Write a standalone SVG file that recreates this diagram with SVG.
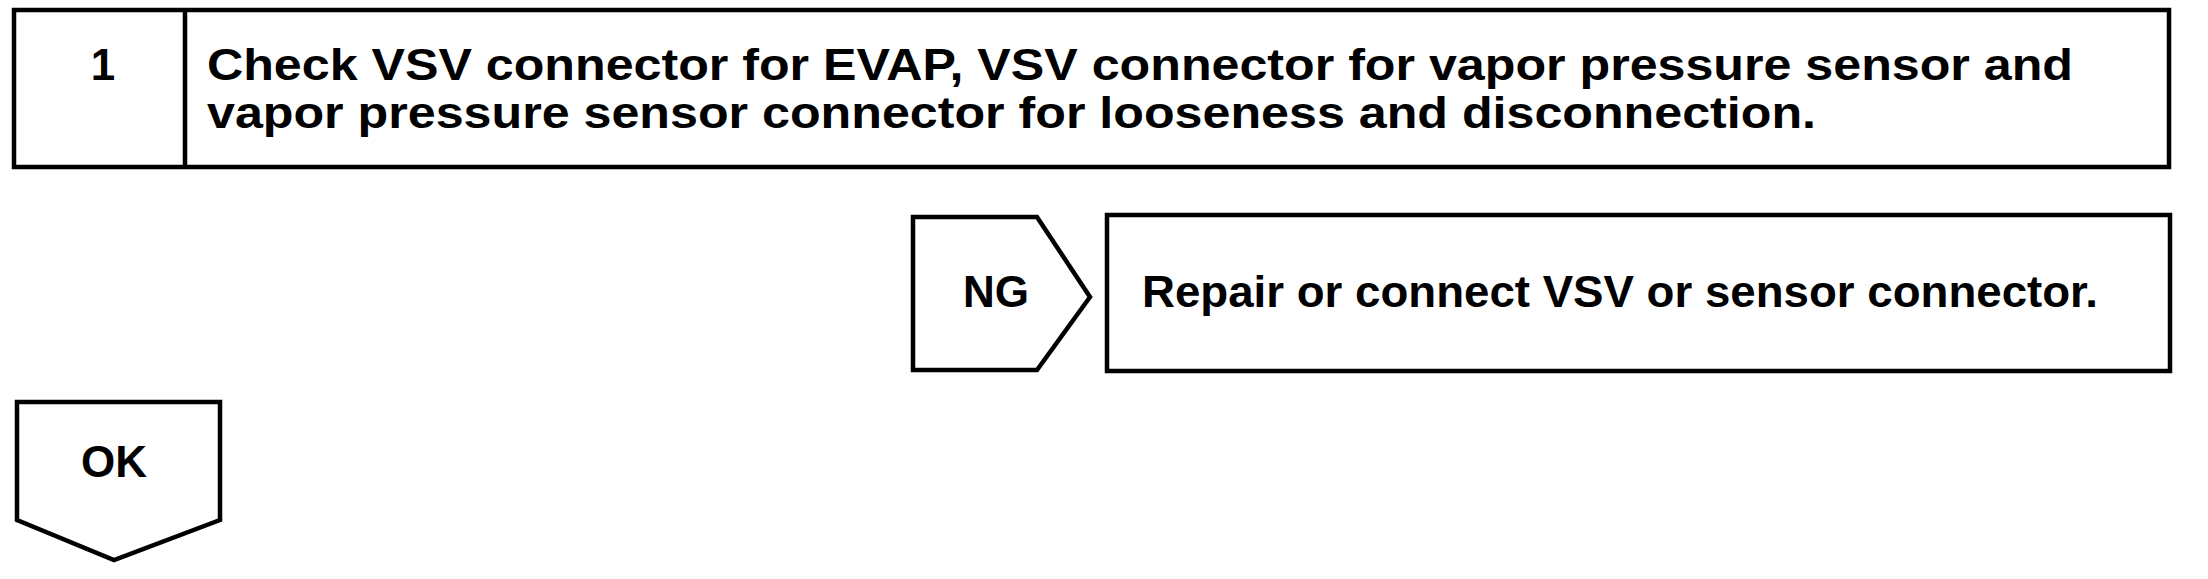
<svg xmlns="http://www.w3.org/2000/svg" width="2208" height="579" viewBox="0 0 2208 579">
<style>
.box{fill:#fff;stroke:#000;stroke-width:4.5;stroke-linejoin:miter}
.t{font-family:"Liberation Sans",Arial,sans-serif;font-weight:bold;font-size:44px;fill:#000}
</style>
<rect width="2208" height="579" fill="#fff"/>
<g id="step1">
<rect class="box" x="14" y="10" width="2155" height="157"/>
<line class="box" x1="185" y1="10" x2="185" y2="167"/>
<text class="t" x="103" y="80" text-anchor="middle">1</text>
<text class="t" x="207" y="80" textLength="1866" lengthAdjust="spacingAndGlyphs">Check VSV connector for EVAP, VSV connector for vapor pressure sensor and</text>
<text class="t" x="207" y="128" textLength="1609" lengthAdjust="spacingAndGlyphs">vapor pressure sensor connector for looseness and disconnection.</text>
</g>
<g id="ng">
<path class="box" d="M913,217 L1037,217 L1090,297 L1037,370 L913,370 Z"/>
<text class="t" x="996" y="307" text-anchor="middle">NG</text>
</g>
<g id="repair">
<rect class="box" x="1107" y="215" width="1063" height="156"/>
<text class="t" x="1142" y="307" textLength="956" lengthAdjust="spacingAndGlyphs">Repair or connect VSV or sensor connector.</text>
</g>
<g id="ok">
<path class="box" d="M17,402 L220,402 L220,520 L114,560 L17,520 Z"/>
<text class="t" x="114" y="477" text-anchor="middle">OK</text>
</g>
<g id="connectors"></g>
</svg>
